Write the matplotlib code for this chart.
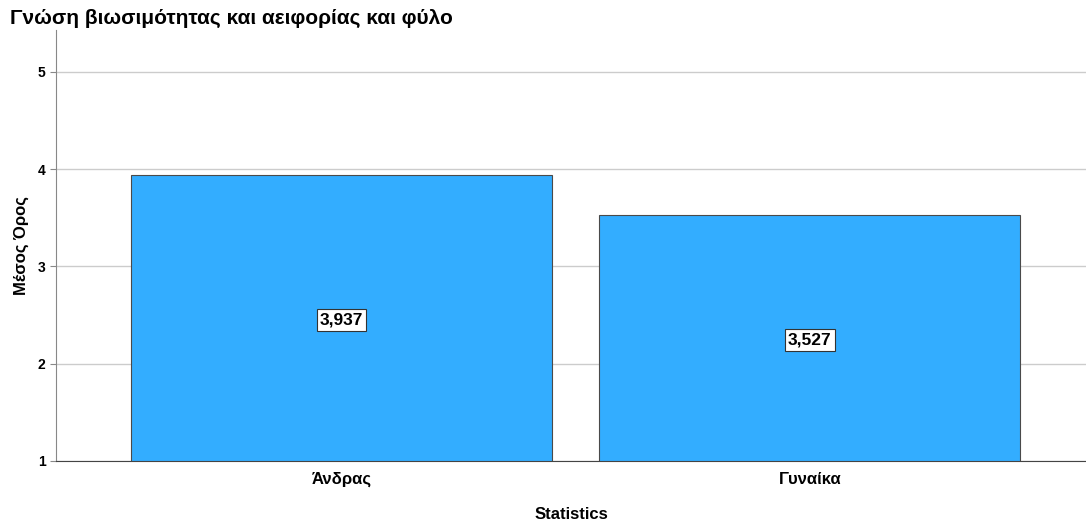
import matplotlib.pyplot as plt

plt.rcParams['font.family'] = ['Liberation Sans', 'DejaVu Sans']

categories = ['Άνδρας', 'Γυναίκα']
means = [3.937, 3.527]
labels = ['3,937', '3,527']

fig = plt.figure(figsize=(10.86, 5.24), dpi=100)
ax = fig.add_axes([56 / 1086, 1 - 461 / 524, 1030 / 1086, 431 / 524])

x = range(len(categories))
bars = ax.bar(x, [m - 1 for m in means], bottom=1, width=0.9,
              color='#33adff', edgecolor='#4a4a4a', linewidth=0.8, zorder=3)

for i, (m, lab) in enumerate(zip(means, labels)):
    ax.text(i, (1 + m) / 2 - 0.02, lab, ha='center', va='center', fontsize=12.5,
            fontweight='bold', color='black', zorder=4,
            bbox=dict(boxstyle='square,pad=0.18', facecolor='white',
                      edgecolor='#333333', linewidth=0.8))

ax.set_xlim(-0.61, 1.59)
ax.set_ylim(1, 5.43)
ax.set_yticks([1, 2, 3, 4, 5])
ax.set_xticks(list(x))
ax.set_xticklabels(categories, fontsize=12)
ax.tick_params(axis='y', labelsize=10, length=4, color='#888888')
ax.tick_params(axis='x', length=0, pad=8)
for t in ax.get_yticklabels():
    t.set_fontweight('bold')
for t in ax.get_xticklabels():
    t.set_fontweight('bold')

ax.grid(axis='y', color='#cccccc', linewidth=1, zorder=0)
ax.spines['top'].set_visible(False)
ax.spines['right'].set_visible(False)
ax.spines['left'].set_color('#888888')
ax.spines['bottom'].set_color('#444444')

ax.set_ylabel('Μέσος Όρος', fontsize=12, fontweight='bold', labelpad=6)
ax.set_xlabel('Statistics', fontsize=12, fontweight='bold', labelpad=14)
fig.text(10 / 1086, 1 - 18 / 524, 'Γνώση βιωσιμότητας και αειφορίας και φύλο',
         fontsize=15, fontweight='bold', va='center', ha='left')

fig.savefig('out.png', dpi=100)
